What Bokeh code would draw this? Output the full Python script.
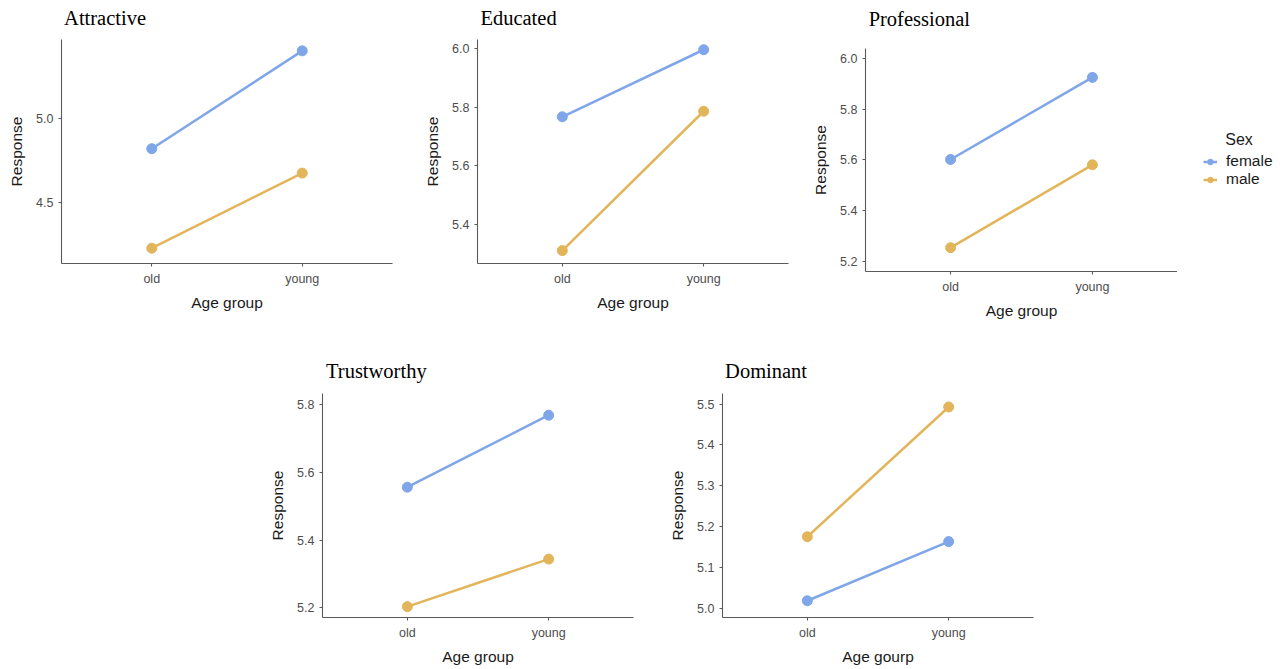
from bokeh.plotting import figure
from bokeh.layouts import row, column
from bokeh.models import (Range1d, FixedTicker, Legend, LegendItem, Title, Spacer,
                          LinearAxis)
from bokeh.embed import file_html
from bokeh.resources import INLINE

# ---- data -------------------------------------------------------------
traits = ["Attractive", "Educated", "Professional", "Trustworthy", "Dominant"]
age_groups = ["old", "young"]
sexes = ["female", "male"]

female_old = [4.820, 5.768, 5.601, 5.556, 5.018]
female_young = [5.397, 5.997, 5.925, 5.768, 5.163]
male_old = [4.233, 5.311, 5.253, 5.204, 5.175]
male_young = [4.676, 5.787, 5.580, 5.344, 5.493]

y_ticks = [
    [4.5, 5.0],
    [5.4, 5.6, 5.8, 6.0],
    [5.2, 5.4, 5.6, 5.8, 6.0],
    [5.2, 5.4, 5.6, 5.8],
    [5.0, 5.1, 5.2, 5.3, 5.4, 5.5],
]
x_titles = ["Age group", "Age group", "Age group", "Age group", "Age gourp"]
y_title = "Response"
legend_title = "Sex"

# ---- layout / style ---------------------------------------------------
y_limits = [(4.143, 5.464), (5.267, 6.032), (5.159, 6.039), (5.172, 5.832), (4.977, 5.526)]
# width, height, border left/right/top/bottom, heading standoff
geometry = [
    (420, 335, 61, 28, 39, 72, 11),
    (380, 335, 57, 12, 39, 72, 11),
    (377, 335, 65, 0, 48, 64, 19),
    (410, 334, 82, 17, 58, 52, 12),
    (430, 334, 72, 47, 58, 52, 12),
]
colors = {"female": "#7FA6E8", "male": "#E3B55B"}
SANS = "Liberation Sans"
SERIF = "Liberation Serif"
HEAD_SIZE = 20.5
HEAD_INDENT = 3
AXIS_COLOR = "#5A5A5A"
HAS_LABEL_ALIGN = "axis_label_align" in LinearAxis.properties()

# Times-compatible advance widths (1/1000 em) used to left-align the headings,
# whose axis label is centred on the frame's left edge
SERIF_WIDTHS = {
    "A": 722, "D": 722, "E": 611, "P": 556, "T": 611, "a": 444, "c": 444,
    "d": 500, "e": 444, "f": 333, "h": 500, "i": 278, "l": 278, "m": 778,
    "n": 500, "o": 500, "r": 333, "s": 389, "t": 278, "u": 500, "v": 500,
    "w": 722, "y": 500,
}
NBSP_WIDTH = 250


def left_aligned(text):
    width = sum(SERIF_WIDTHS.get(ch, 500) for ch in text) * HEAD_SIZE / 1000
    pad = round((width + 2 * HEAD_INDENT) / (NBSP_WIDTH * HEAD_SIZE / 1000))
    return "\u00a0" * pad + text


series = {
    "female": (female_old, female_young),
    "male": (male_old, male_young),
}
x_pos = [i + 1 for i in range(len(age_groups))]
x_lo, x_hi = 0.4, len(age_groups) + 0.6


def make_panel(i):
    w, h, bl, br, bt, bb, tstand = geometry[i]
    p = figure(width=w, height=h, output_backend="svg", toolbar_location=None,
               x_range=Range1d(x_lo, x_hi),
               y_range=Range1d(*y_limits[i]),
               min_border_left=bl, min_border_right=br,
               min_border_top=bt, min_border_bottom=bb)
    p.outline_line_color = None
    p.xgrid.visible = False
    p.ygrid.visible = False
    p.background_fill_color = "white"
    p.border_fill_color = "white"

    bottom = p.below[0]
    left = p.left[0]

    # panel heading: a bare axis above the frame carrying only its label
    if HAS_LABEL_ALIGN:
        head = LinearAxis(ticker=FixedTicker(ticks=[]), axis_label=left_aligned(traits[i]),
                          axis_line_color=None, major_tick_line_color=None,
                          minor_tick_line_color=None, major_tick_out=0,
                          major_tick_in=0, minor_tick_out=0, minor_tick_in=0,
                          major_label_standoff=0, axis_label_standoff=tstand,
                          axis_label_text_font=SERIF,
                          axis_label_text_font_size=f"{HEAD_SIZE}px",
                          axis_label_text_font_style="normal",
                          axis_label_text_color="#000000")
        head.axis_label_align = "start"
        p.add_layout(head, "above")
    else:
        p.title = Title(text=traits[i], text_font=SERIF, text_font_size=f"{HEAD_SIZE}px",
                        text_font_style="normal", text_color="#000000",
                        align="left", offset=2, standoff=14)

    bottom.ticker = FixedTicker(ticks=x_pos)
    bottom.major_label_overrides = {x: g for x, g in zip(x_pos, age_groups)}
    bottom.axis_label = x_titles[i]
    left.ticker = FixedTicker(ticks=y_ticks[i])
    left.major_label_overrides = {t: f"{t:.1f}" for t in y_ticks[i]}
    left.axis_label = y_title

    for ax in (bottom, left):
        ax.axis_line_color = AXIS_COLOR
        ax.axis_line_width = 1.1
        ax.major_tick_line_color = AXIS_COLOR
        ax.major_tick_line_width = 1.1
        ax.major_tick_out = 3
        ax.major_tick_in = 0
        ax.minor_tick_out = 0
        ax.minor_tick_in = 0
        ax.major_label_text_font = SANS
        ax.major_label_text_font_size = "12.5px"
        ax.major_label_text_color = "#4D4D4D"
        ax.axis_label_text_font = SANS
        ax.axis_label_text_font_size = "15.5px"
        ax.axis_label_text_font_style = "normal"
        ax.axis_label_text_color = "#1A1A1A"
    left.major_label_standoff = 5
    left.axis_label_standoff = 8
    bottom.major_label_standoff = 5
    bottom.axis_label_standoff = 5

    for sex in sexes:
        old_vals, young_vals = series[sex]
        ys = [old_vals[i], young_vals[i]]
        p.line(x_pos, ys, line_color=colors[sex], line_width=2.5)
        p.scatter(x_pos, ys, size=10, fill_color=colors[sex], line_color=colors[sex])
    return p


panels = [make_panel(i) for i in range(len(traits))]

# legend panel to the right of the "Professional" chart; its key renderers
# carry that chart's series but sit outside this panel's visible range
prof = traits.index("Professional")
key = figure(width=109, height=335, output_backend="svg", toolbar_location=None,
             x_range=Range1d(x_hi + 1, x_hi + 2), y_range=Range1d(*y_limits[prof]),
             x_axis_location=None, y_axis_location=None,
             min_border_left=0, min_border_right=0, min_border_top=48, min_border_bottom=64)
key.outline_line_color = None
key.xgrid.visible = False
key.ygrid.visible = False
key_items = []
for sex in sexes:
    old_vals, young_vals = series[sex]
    ys = [old_vals[prof], young_vals[prof]]
    ln = key.line(x_pos, ys, line_color=colors[sex], line_width=2.5)
    pt = key.scatter(x_pos, ys, size=10, fill_color=colors[sex], line_color=colors[sex])
    key_items.append(LegendItem(label=sex, renderers=[ln, pt]))
legend = Legend(items=key_items, title="\u00a0" * 5 + legend_title,
                location=(26, 83), margin=0, padding=0,
                glyph_width=14, glyph_height=15, label_height=15,
                spacing=0, label_standoff=9, title_standoff=3,
                border_line_color=None, background_fill_alpha=0,
                label_text_font=SANS, label_text_font_size="15.5px",
                label_text_color="#1A1A1A",
                title_text_font=SANS, title_text_font_size="16px",
                title_text_font_style="normal", title_text_color="#1A1A1A")
key.add_layout(legend)

layout = column(
    row(panels[0], panels[1], column(panels[2]), column(key)),
    row(Spacer(width=240, height=334), panels[3], panels[4]),
)

open("out.html", "w").write(file_html(layout, INLINE))
